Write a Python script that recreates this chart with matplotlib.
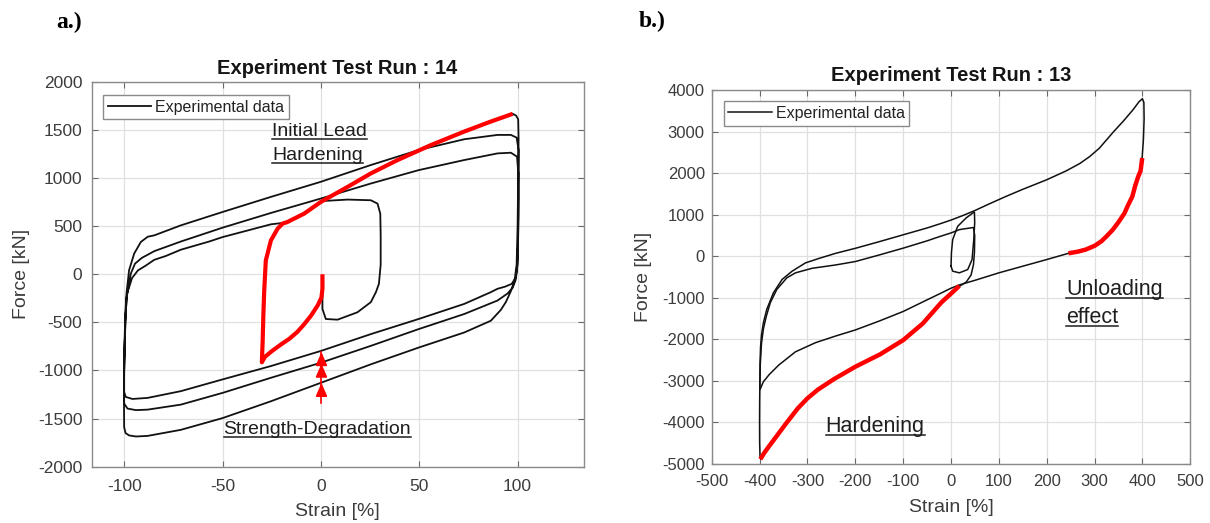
import matplotlib
matplotlib.use('Agg')
import matplotlib.pyplot as plt
from matplotlib.lines import Line2D
from matplotlib.transforms import IdentityTransform
import numpy as np

plt.rcParams['font.family'] = ['Liberation Sans', 'DejaVu Sans']
plt.rcParams['axes.unicode_minus'] = False

# ---- panel a : test run 14 (strain %, force kN) ----
a_l3_x = [97.5, 99.2, 100.3, 100.5, 100.3, 100.0, 99.5, 98.5, 96.5, 94.0, 91.5, 86.4, 72.9, 49.7, 25.4, 0.0, -25.4, -50.0, -71.2, -88.1, -94.0, -97.5, -99.3, -100.0]
a_l3_y = [1667, 1650, 1610, 1400, 1000, 500, 100, -60, -180, -290, -370, -483, -605, -762, -936, -1128, -1320, -1495, -1617, -1680, -1686, -1675, -1650, -1590]
a_u1_x = [-100.1, -100.0, -99.8, -99.4, -98.8, -97.5, -94.9, -91.5, -88.0, -84.7, -71.2, -50.0, -25.4, 0.0, 25.4, 49.7, 72.9, 89.8, 96.6, 99.5, 100.5, 100.5, 100.2]
a_u1_y = [-1300, -1000, -700, -400, -200, 42, 215, 336, 390, 404, 508, 647, 804, 961, 1135, 1291, 1403, 1448, 1448, 1420, 1291, 800, 300]
a_l2_x = [99.8, 99.0, 97.5, 94.9, 89.8, 72.9, 49.7, 25.4, 0.0, -25.4, -50.0, -71.2, -88.1, -94.0, -98.3, -100.0]
a_l2_y = [100, -60, -140, -200, -273, -413, -570, -744, -919, -1076, -1233, -1355, -1407, -1412, -1396, -1344]
a_u2_x = [-100.1, -99.8, -99.4, -98.8, -96.6, -94.5, -91.0, -84.7, -71.2, -50.0, -25.4, 0.0, 25.4, 49.7, 72.9, 89.8, 96.6, 99.7, 100.4, 100.4, 100.2]
a_u2_y = [-1100, -800, -500, -250, 7, 110, 170, 240, 340, 484, 637, 787, 943, 1082, 1187, 1256, 1263, 1222, 1048, 600, 250]
a_l1_x = [100.0, 99.2, 97.0, 93.5, 89.8, 86.4, 72.9, 49.7, 25.4, 0.0, -25.4, -50.0, -71.2, -88.1, -95.8, -99.2, -100.0]
a_l1_y = [100, -30, -100, -130, -151, -186, -308, -465, -622, -797, -954, -1093, -1215, -1285, -1296, -1275, -1223]
a_u3_x = [-100.0, -99.7, -99.2, -98.5, -96.0, -93.0, -89.0, -84.7, -78.8, -71.2, -56.8, -50.0, -25.4, -19.5]
a_u3_y = [-1000, -700, -400, -200, -40, 40, 90, 150, 190, 255, 340, 386, 519, 533]
# small inner loop (+30 %)
a_inner_x = [0.8, 0.8, 2.5, 8.5, 18.6, 25.4, 28.0, 29.5, 30.4, 30.4, 30.2, 28.8, 25.4, 13.6, 0.0]
a_inner_y = [-200, -360, -465, -472, -395, -290, -185, -100, 100, 400, 630, 734, 769, 776, 760]
# highlighted initial lead hardening
a_red_x = [0.8, 0.8, 0.3, -1.5, -5.0, -8.5, -12.0, -16.0, -20.3, -25.0, -28.5, -30.0, -29.6, -29.2, -28.8, -28.0, -25.4, -22.0, -19.5, -17.0, -8.5, 0.0, 13.6, 25.4, 39.0, 56.0, 72.9, 86.4, 97.5]
a_red_y = [0, -150, -240, -320, -430, -520, -600, -670, -730, -800, -860, -915, -700, -400, -170, 143, 352, 473, 526, 543, 630, 752, 908, 1048, 1187, 1343, 1483, 1587, 1667]
a_arrow_tips = [-810, -930, -1130]

# ---- panel b : test run 13 ----
b_vert_x = [-395, -397, -399, -399.8, -400, -399.8, -399.5]
b_vert_y = [-4840, -4880, -4840, -4500, -4000, -3500, -3200]
b_top_x = [-399.5, -399, -398, -396, -392, -385, -371, -353, -332, -304, -275, -241, -200, -150, -100, -50, -23, 0, 25, 50, 80, 115, 150, 200, 240, 269, 290, 310, 325, 340, 360, 380, 393, 400, 403, 403.5, 402, 399]
b_top_y = [-3200, -2600, -2200, -1900, -1600, -1280, -880, -560, -360, -160, -50, 70, 190, 350, 515, 680, 780, 870, 980, 1100, 1260, 1440, 1610, 1840, 2050, 2230, 2400, 2600, 2800, 3000, 3250, 3520, 3720, 3790, 3700, 3300, 2800, 2310]
b_low_x = [250, 200, 150, 100, 50, 17.5, 0, -23, -50, -100, -150, -200, -241, -283, -325, -360, -380, -392, -398, -399.5]
b_low_y = [85, -80, -240, -400, -580, -690, -770, -900, -1050, -1330, -1560, -1775, -1920, -2080, -2300, -2620, -2850, -3020, -3180, -3200]
b_mid_x = [-399.5, -398.5, -396, -392, -386, -377.6, -364, -343, -325, -290, -241, -200, -150, -100, -50, -23, 0, 17.5, 40, 47, 49.5, 49, 47, 42, 32, 14]
b_mid_y = [-3200, -2600, -2100, -1750, -1450, -1120, -800, -520, -400, -290, -210, -128, 30, 194, 370, 476, 560, 640, 680, 690, 500, 100, -200, -450, -620, -750]
b_lens_x = [0, 1, 3.5, 14, 31.5, 45.5, 49, 49.5, 47.6, 44, 35, 17.5, 3.5, 0]
b_lens_y = [-240, 100, 400, 720, 920, 1040, 1060, 800, 400, -80, -320, -400, -360, -240]
b_hard_x = [-396, -390, -380, -365, -345, -320, -300, -278, -245, -200, -148, -100, -59, -20, 0, 14]
b_hard_y = [-4840, -4730, -4570, -4340, -4030, -3660, -3420, -3210, -2960, -2660, -2360, -2020, -1620, -1110, -900, -750]
b_unl_x = [399, 396, 391, 385, 378.8, 370, 362.5, 350, 338, 325, 314, 300, 281, 265, 250]
b_unl_y = [2310, 2050, 1912, 1700, 1434, 1230, 1035, 820, 637, 480, 358, 250, 158, 110, 80]

W, H = 1210, 523
fig = plt.figure(figsize=(W / 100, H / 100), dpi=100)
ax_a = fig.add_axes([91.5 / W, 1 - 466.7 / H, 492 / W, 384.9 / H])
ax_b = fig.add_axes([711.7 / W, 1 - 464 / H, 478.6 / W, 374 / H])

txt_col = '#3c3c3c'
spine_col = '#8a8a8a'


def style_axes(ax, xlim, ylim, xticks, yticks, title, tsize, xpad, ypad, tpad):
    ax.set_xlim(xlim)
    ax.set_ylim(ylim)
    ax.set_xticks(xticks)
    ax.set_yticks(yticks)
    ax.grid(True, color='#e0e0e0', lw=0.9)
    ax.set_axisbelow(True)
    ax.tick_params(direction='in', top=True, right=True, length=4, width=0.8,
                   color='#6a6a6a', labelsize=tsize, labelcolor=txt_col)
    ax.tick_params(axis='x', pad=xpad)
    ax.tick_params(axis='y', pad=ypad)
    for s in ax.spines.values():
        s.set_color(spine_col)
        s.set_linewidth(1.0)
    ax.set_title(title, fontsize=14.5, fontweight='bold', color='#151515', pad=tpad)
    ax.set_xlabel('Strain [%]', fontsize=14, color=txt_col)
    ax.set_ylabel('Force [kN]', fontsize=14, color=txt_col)
    ax.xaxis.set_label_coords(0.5, -0.094)
    ax.yaxis.set_label_coords(-0.125, 0.5)


style_axes(ax_a, (-116.6, 133.5), (-2000, 2000), np.arange(-100, 101, 50),
           np.arange(-2000, 2001, 500), 'Experiment Test Run : 14', 12.5, 8.5, 6.5, 5.7)
style_axes(ax_b, (-500, 500), (-5000, 4000), np.arange(-500, 501, 100),
           np.arange(-5000, 4001, 1000), 'Experiment Test Run : 13', 12, 7, 5, 6.5)

# panel a curves
a_x = np.concatenate([a_l3_x, a_u1_x, a_l2_x, a_u2_x, a_l1_x, a_u3_x])
a_y = np.concatenate([a_l3_y, a_u1_y, a_l2_y, a_u2_y, a_l1_y, a_u3_y])
line_a, = ax_a.plot(a_x, a_y, color='#111111', lw=1.3, label='Experimental data')
ax_a.plot(a_inner_x, a_inner_y, color='#111111', lw=1.3)
ax_a.plot(a_red_x, a_red_y, color='#ff0000', lw=3, solid_capstyle='butt', zorder=4)

# strength degradation arrows
ax_a.plot([0.3, 0.3], [-1338, a_arrow_tips[0]], color='red', lw=1.2, zorder=5)
for tip in a_arrow_tips:
    ax_a.annotate('', xy=(0.3, tip), xytext=(0.3, tip - 100),
                  arrowprops=dict(arrowstyle='-|>,head_length=0.8,head_width=0.35',
                                  color='red', lw=1.2, shrinkA=0, shrinkB=0,
                                  mutation_scale=10), zorder=5)

# panel b curves
line_b, = ax_b.plot(b_top_x, b_top_y, color='#111111', lw=1.1, label='Experimental data')
for xs, ys in [(b_vert_x, b_vert_y), (b_low_x, b_low_y), (b_mid_x, b_mid_y), (b_lens_x, b_lens_y)]:
    ax_b.plot(xs, ys, color='#111111', lw=1.1)
ax_b.plot(b_hard_x, b_hard_y, color='#ff0000', lw=3.2, zorder=4)
ax_b.plot(b_unl_x, b_unl_y, color='#ff0000', lw=3.2, zorder=4)

for ax, ln, x0, y0 in [(ax_a, line_a, 0.023, 0.966), (ax_b, line_b, 0.025, 0.97)]:
    leg = ax.legend(handles=[ln], loc='upper left', bbox_to_anchor=(x0, y0),
                    borderaxespad=0, fancybox=False, edgecolor=spine_col,
                    framealpha=1, fontsize=11.5, handlelength=2.7,
                    handletextpad=0.25, borderpad=0.3)
    leg.get_frame().set_linewidth(1.0)
    for t in leg.get_texts():
        t.set_color('#222222')

# annotations (underlined)
notes = []
for ax, x, y, s, fs in [(ax_a, -24.6, 1437, 'Initial Lead', 14),
                        (ax_a, -24.6, 1187, 'Hardening', 14),
                        (ax_a, -49.5, -1659, 'Strength-Degradation', 14),
                        (ax_b, 241, -944, 'Unloading', 15.5),
                        (ax_b, 241, -1603, 'effect', 15.5),
                        (ax_b, -262, -4218, 'Hardening', 15.5)]:
    t = ax.text(x, y, s, fontsize=fs, color='#1e1e1e', ha='left', va='baseline', zorder=6)
    notes.append(t)

fig.text(56 / W, 1 - 22 / H, 'a.)', family='Liberation Serif', fontweight='bold', fontsize=17, va='center')
fig.text(639 / W, 1 - 21 / H, 'b.)', family='Liberation Serif', fontweight='bold', fontsize=17, va='center')

fig.canvas.draw()
renderer = fig.canvas.get_renderer()
for t in notes:
    bb = t.get_window_extent(renderer)
    base = t.get_transform().transform(t.get_position())[1]
    fig.add_artist(Line2D([bb.x0, bb.x1], [base - 3, base - 3], transform=IdentityTransform(),
                          color='#1e1e1e', lw=1.1))

fig.savefig('out.png', dpi=100)
